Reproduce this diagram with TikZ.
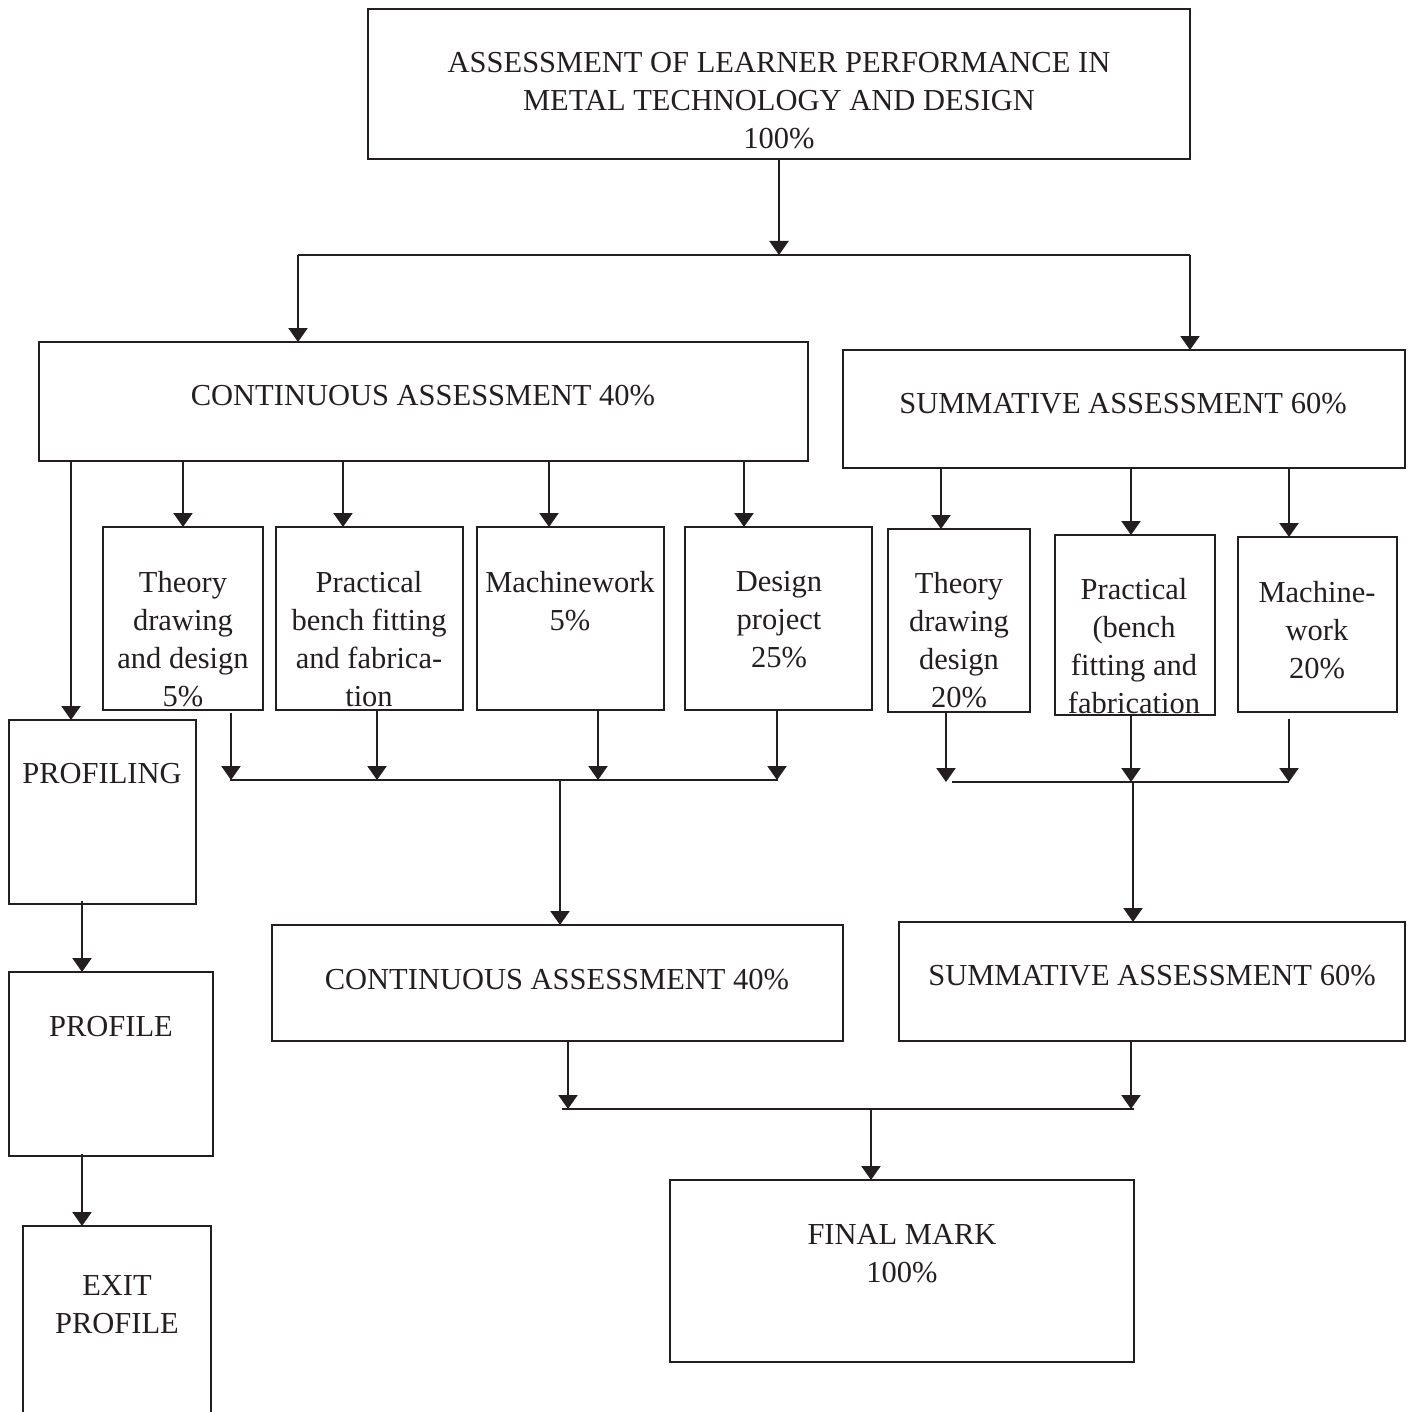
\documentclass[tikz,border=0pt]{standalone}
\usepackage{fontspec}
\setmainfont{Liberation Serif}
\usetikzlibrary{arrows.meta}
\definecolor{ink}{HTML}{231F20}
\begin{document}
\begin{tikzpicture}[x=1pt,y=-1pt,
  box/.style={draw=ink,line width=2.6pt,rectangle,inner sep=0pt,outer sep=0pt},
  txt/.style={text=ink,font=\fontsize{30.5}{38}\selectfont,align=center,inner sep=0pt,anchor=north},
  ln/.style={draw=ink,line width=2.2pt},
  arr/.style={draw=ink,line width=2.4pt,-{Triangle[width=19pt,length=14pt]}}]
\useasboundingbox (0,0) rectangle (1412,1412);
% boxes
\node[box,minimum width=822pt,minimum height=150pt] (top) at (779,84) {};
\node[box,minimum width=769pt,minimum height=119pt] (ca) at (423.5,401.5) {};
\node[box,minimum width=562pt,minimum height=118pt] (sa) at (1124,409) {};
\node[box,minimum width=160pt,minimum height=183pt] (th) at (183,618.5) {};
\node[box,minimum width=187pt,minimum height=183pt] (pr) at (369.5,618.5) {};
\node[box,minimum width=187pt,minimum height=183pt] (mw) at (570.5,618.5) {};
\node[box,minimum width=187pt,minimum height=183pt] (dp) at (778.5,618.5) {};
\node[box,minimum width=142pt,minimum height=183pt] (thb) at (959,620.5) {};
\node[box,minimum width=160pt,minimum height=180pt] (prb) at (1135,625) {};
\node[box,minimum width=159pt,minimum height=175pt] (mwb) at (1317.5,624.5) {};
\node[box,minimum width=187pt,minimum height=184pt] (pfg) at (102.5,812) {};
\node[box,minimum width=204pt,minimum height=184pt] (pf) at (111,1064) {};
\node[box,minimum width=188pt,minimum height=200pt] (ex) at (117,1326) {};
\node[box,minimum width=571pt,minimum height=116pt] (cab) at (557.5,983) {};
\node[box,minimum width=506pt,minimum height=119pt] (sab) at (1152,981.5) {};
\node[box,minimum width=464pt,minimum height=182pt] (fin) at (902,1271) {};
% texts
\node[txt] (ttop) at (779,52) {ASSESSMENT OF LEARNER PERFORMANCE IN\\METAL TECHNOLOGY AND DESIGN\\100\%};
\node[txt] (tca) at (423,385) {CONTINUOUS ASSESSMENT 40\%};
\node[txt] (tsa) at (1123,393) {SUMMATIVE ASSESSMENT 60\%};
\node[txt] (tth) at (183,571) {Theory\\drawing\\and design\\5\%};
\node[txt] (tpr) at (369,571) {Practical\\bench fitting\\and fabrica-\\tion};
\node[txt] (tmw) at (570,571) {Machinework\\5\%};
\node[txt] (tdp) at (779,571) {Design\\project\\25\%};
\node[txt] (tthb) at (959,572) {Theory\\drawing\\design\\20\%};
\node[txt] (tprb) at (1134,578) {Practical\\(bench\\fitting and\\fabrication};
\node[txt] (tmwb) at (1317,581) {Machine-\\work\\20\%};
\node[txt] (tpfg) at (102,763) {PROFILING};
\node[txt] (tpf) at (111,1016) {PROFILE};
\node[txt] (tex) at (117,1275) {EXIT\\PROFILE};
\node[txt] (tcab) at (557,969) {CONTINUOUS ASSESSMENT 40\%};
\node[txt] (tsab) at (1152,965) {SUMMATIVE ASSESSMENT 60\%};
\node[txt] (tfin) at (902,1224) {FINAL MARK\\100\%};
% junction coordinates
\coordinate (j1) at (779,255);
\coordinate (j1L) at (298,255);
\coordinate (j1R) at (1190,255);
\coordinate (xpfg) at (71,0);
\coordinate (xth) at (183,0);
\coordinate (xpr) at (343,0);
\coordinate (xmw) at (549,0);
\coordinate (xdp) at (744,0);
\coordinate (xthb) at (941,0);
\coordinate (xprb) at (1131,0);
\coordinate (xmwb) at (1289,0);
\coordinate (m1L) at (230,780);
\coordinate (m1R) at (778,780);
\coordinate (m1) at (560,780);
\coordinate (ythd) at (231,0);
\coordinate (yprd) at (377,0);
\coordinate (ymwd) at (598,0);
\coordinate (ydpd) at (777,0);
\coordinate (m2L) at (946,782);
\coordinate (m2R) at (1289,782);
\coordinate (m2) at (1133,782);
\coordinate (xprbd) at (1131,0);
\coordinate (m3L) at (562,1109);
\coordinate (m3R) at (1134,1109);
\coordinate (m3) at (871,1109);
\coordinate (xcad) at (568,0);
\coordinate (xsad) at (1131,0);
\coordinate (xpf) at (82,0);
% top level
\draw[arr] (top.south -| j1) -- (j1);
\draw[ln] (j1L) -- (j1R);
\draw[arr] (j1L) -- (j1L |- ca.north);
\draw[arr] (j1R) -- (j1R |- sa.north);
% continuous children
\draw[arr] (ca.south -| xpfg) -- (pfg.north -| xpfg);
\draw[arr] (ca.south -| xth) -- (th.north -| xth);
\draw[arr] (ca.south -| xpr) -- (pr.north -| xpr);
\draw[arr] (ca.south -| xmw) -- (mw.north -| xmw);
\draw[arr] (ca.south -| xdp) -- (dp.north -| xdp);
% summative children
\draw[arr] (sa.south -| xthb) -- (thb.north -| xthb);
\draw[arr] (sa.south -| xprb) -- (prb.north -| xprb);
\draw[arr] (sa.south -| xmwb) -- (mwb.north -| xmwb);
% continuous merge
\draw[arr] ([yshift=-3pt]th.south -| ythd) -- (m1L -| ythd);
\draw[arr] (pr.south -| yprd) -- (m1L -| yprd);
\draw[arr] (mw.south -| ymwd) -- (m1L -| ymwd);
\draw[arr] (dp.south -| ydpd) -- (m1L -| ydpd);
\draw[ln] (m1L) -- (m1R);
\draw[arr] (m1) -- (cab.north -| m1);
% summative merge
\draw[arr] (thb.south -| m2L) -- (m2L);
\draw[arr] (prb.south -| xprbd) -- (m2L -| xprbd);
\draw[arr] ([yshift=-7pt]mwb.south -| m2R) -- (m2R);
\draw[ln] ([xshift=6pt]m2L) -- (m2R);
\draw[arr] (m2) -- (sab.north -| m2);
% final merge
\draw[arr] (cab.south -| xcad) -- (m3L -| xcad);
\draw[arr] (sab.south -| xsad) -- (m3L -| xsad);
\draw[ln] (m3L) -- (m3R);
\draw[arr] (m3) -- (fin.north -| m3);
% profiling chain
\draw[arr] ([yshift=3pt]pfg.south -| xpf) -- (pf.north -| xpf);
\draw[arr] ([yshift=2pt]pf.south -| xpf) -- (ex.north -| xpf);
\end{tikzpicture}
\end{document}
